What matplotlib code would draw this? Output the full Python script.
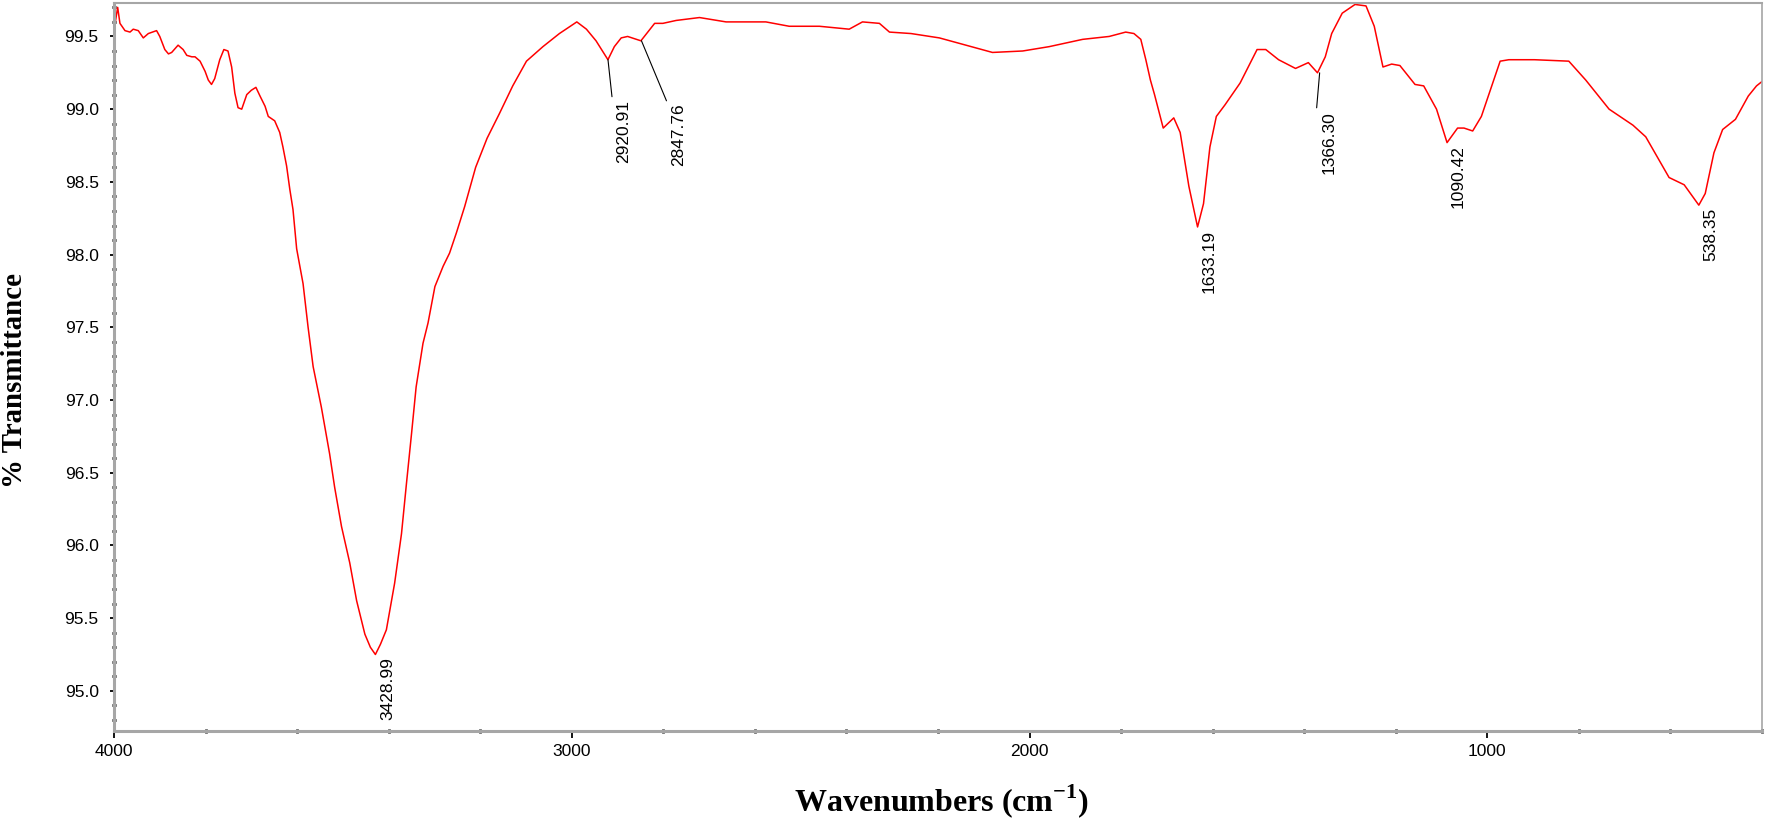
import numpy as np
import matplotlib
matplotlib.use('Agg')
import matplotlib.pyplot as plt
from matplotlib.ticker import MultipleLocator, FormatStrFormatter

# spectrum (wavenumber, %T)
wavenumber = [3998, 3992, 3987, 3976, 3965, 3958, 3947, 3936, 3925, 3907,
              3900, 3889, 3881, 3874, 3860, 3849, 3841, 3830, 3823, 3812,
              3801, 3794, 3787, 3780, 3769, 3760, 3751, 3743, 3736, 3729,
              3721, 3710, 3700, 3690, 3681, 3670, 3663, 3649, 3638, 3631,
              3623, 3616, 3609, 3601, 3587, 3576, 3565, 3547, 3529, 3518,
              3503, 3485, 3470, 3452, 3440, 3429, 3418, 3405, 3387, 3372,
              3361, 3350, 3340, 3325, 3314, 3299, 3281, 3267, 3252, 3234,
              3210, 3185, 3158, 3129, 3099, 3063, 3027, 2989, 2968, 2947,
              2921, 2907, 2892, 2878, 2849, 2834, 2819, 2801, 2772, 2721,
              2663, 2576, 2525, 2459, 2394, 2365, 2328, 2306, 2259, 2197,
              2139, 2081, 2015, 1957, 1884, 1826, 1790, 1772, 1757, 1746,
              1736, 1727, 1708, 1685, 1671, 1652, 1633, 1620, 1606, 1592,
              1573, 1540, 1503, 1484, 1456, 1419, 1391, 1371, 1354, 1340,
              1317, 1289, 1265, 1247, 1228, 1209, 1191, 1158, 1139, 1111,
              1088, 1065, 1051, 1032, 1013, 972, 953, 897, 822, 785,
              734, 682, 654, 603, 570, 538, 524, 505, 486, 458,
              430, 412, 400]
transmittance = [99.58, 99.70, 99.59, 99.54, 99.53, 99.55, 99.54, 99.49, 99.52, 99.54,
                 99.50, 99.41, 99.38, 99.39, 99.44, 99.41, 99.37, 99.36, 99.36, 99.33,
                 99.26, 99.20, 99.17, 99.21, 99.34, 99.41, 99.40, 99.29, 99.11, 99.01,
                 99.00, 99.10, 99.13, 99.15, 99.09, 99.02, 98.95, 98.92, 98.84, 98.74,
                 98.61, 98.45, 98.31, 98.04, 97.80, 97.50, 97.23, 96.95, 96.63, 96.40,
                 96.13, 95.88, 95.62, 95.39, 95.30, 95.25, 95.32, 95.42, 95.74, 96.08,
                 96.43, 96.77, 97.09, 97.39, 97.53, 97.78, 97.92, 98.01, 98.15, 98.33,
                 98.60, 98.80, 98.97, 99.16, 99.33, 99.43, 99.52, 99.60, 99.55, 99.47,
                 99.34, 99.43, 99.49, 99.50, 99.47, 99.53, 99.59, 99.59, 99.61, 99.63,
                 99.60, 99.60, 99.57, 99.57, 99.55, 99.60, 99.59, 99.53, 99.52, 99.49,
                 99.44, 99.39, 99.40, 99.43, 99.48, 99.50, 99.53, 99.52, 99.48, 99.34,
                 99.20, 99.10, 98.87, 98.94, 98.84, 98.47, 98.19, 98.35, 98.74, 98.95,
                 99.03, 99.18, 99.41, 99.41, 99.34, 99.28, 99.32, 99.25, 99.36, 99.52,
                 99.66, 99.72, 99.71, 99.57, 99.29, 99.31, 99.30, 99.17, 99.16, 99.00,
                 98.77, 98.87, 98.87, 98.85, 98.95, 99.33, 99.34, 99.34, 99.33, 99.20,
                 99.00, 98.89, 98.81, 98.53, 98.48, 98.34, 98.42, 98.70, 98.86, 98.93,
                 99.09, 99.16, 99.19]

peak_wn = [3428.99, 2920.91, 2847.76, 1633.19, 1366.30, 1090.42, 538.35]
peak_T = [95.25, 99.34, 99.47, 98.19, 99.25, 98.77, 98.34]

# leader line ends in pixels (dx, dy) from the peak
leaders = {2920.91: (4, -37), 2847.76: (25, -60), 1366.30: (-3, -35)}

plt.rcParams['mathtext.fontset'] = 'custom'
plt.rcParams['mathtext.bf'] = 'Liberation Serif:bold'
plt.rcParams['mathtext.rm'] = 'Liberation Serif:bold'

W, H = 1768, 821
fig = plt.figure(figsize=(W / 100, H / 100), dpi=100)
ax = fig.add_axes([114 / W, 1 - 731 / H, 1648 / W, 728 / H])

ax.plot(wavenumber, transmittance, color='#ff0000', lw=1.1)

ax.set_xlim(4000, 400)
ax.set_ylim(94.724, 99.73)

ax.xaxis.set_major_locator(MultipleLocator(1000))
ax.xaxis.set_minor_locator(MultipleLocator(200))
ax.yaxis.set_major_locator(MultipleLocator(0.5))
ax.yaxis.set_minor_locator(MultipleLocator(0.1))
ax.yaxis.set_major_formatter(FormatStrFormatter('%.1f'))

tick_font = 'Liberation Sans'
ax.tick_params(axis='x', which='major', direction='out', length=5, width=1.3,
               color='black', pad=4, labelsize=12.5)
ax.tick_params(axis='y', which='major', direction='out', length=3, width=1.3,
               color='black', pad=8, labelsize=12.5)
ax.tick_params(which='minor', direction='inout', length=2.5, width=2, color='black')
for lab in ax.get_xticklabels() + ax.get_yticklabels():
    lab.set_fontfamily(tick_font)

for side, lw in [('left', 2.2), ('bottom', 2.2), ('top', 1.5), ('right', 1.2)]:
    ax.spines[side].set_color('#a6a6a6')
    ax.spines[side].set_linewidth(lw)

# peak labels
for wn, t in zip(peak_wn, peak_T):
    dx, dy = leaders.get(wn, (0, 0))
    if wn in leaders:
        ax.annotate('', xy=(wn, t), xytext=(dx, dy), textcoords='offset pixels',
                    arrowprops=dict(arrowstyle='-', color='black', lw=0.8,
                                    shrinkA=0, shrinkB=0))
    ax.annotate(f'{wn:.2f}', xy=(wn, t), xytext=(dx + 12, dy - 3),
                textcoords='offset pixels', rotation=90, ha='center', va='top',
                fontsize=12.5, family=tick_font, color='black')

fig.text(15 / W, 1 - 380 / H, '% Transmittance', rotation=90, ha='center',
         va='center', fontsize=20.8, fontweight='bold', family='Liberation Serif')
fig.text(942 / W, 1 - 801 / H, r'Wavenumbers (cm$^{\mathbf{-1}}$)', ha='center',
         va='center', fontsize=23, fontweight='bold', family='Liberation Serif')

fig.savefig('out.png', dpi=100)
